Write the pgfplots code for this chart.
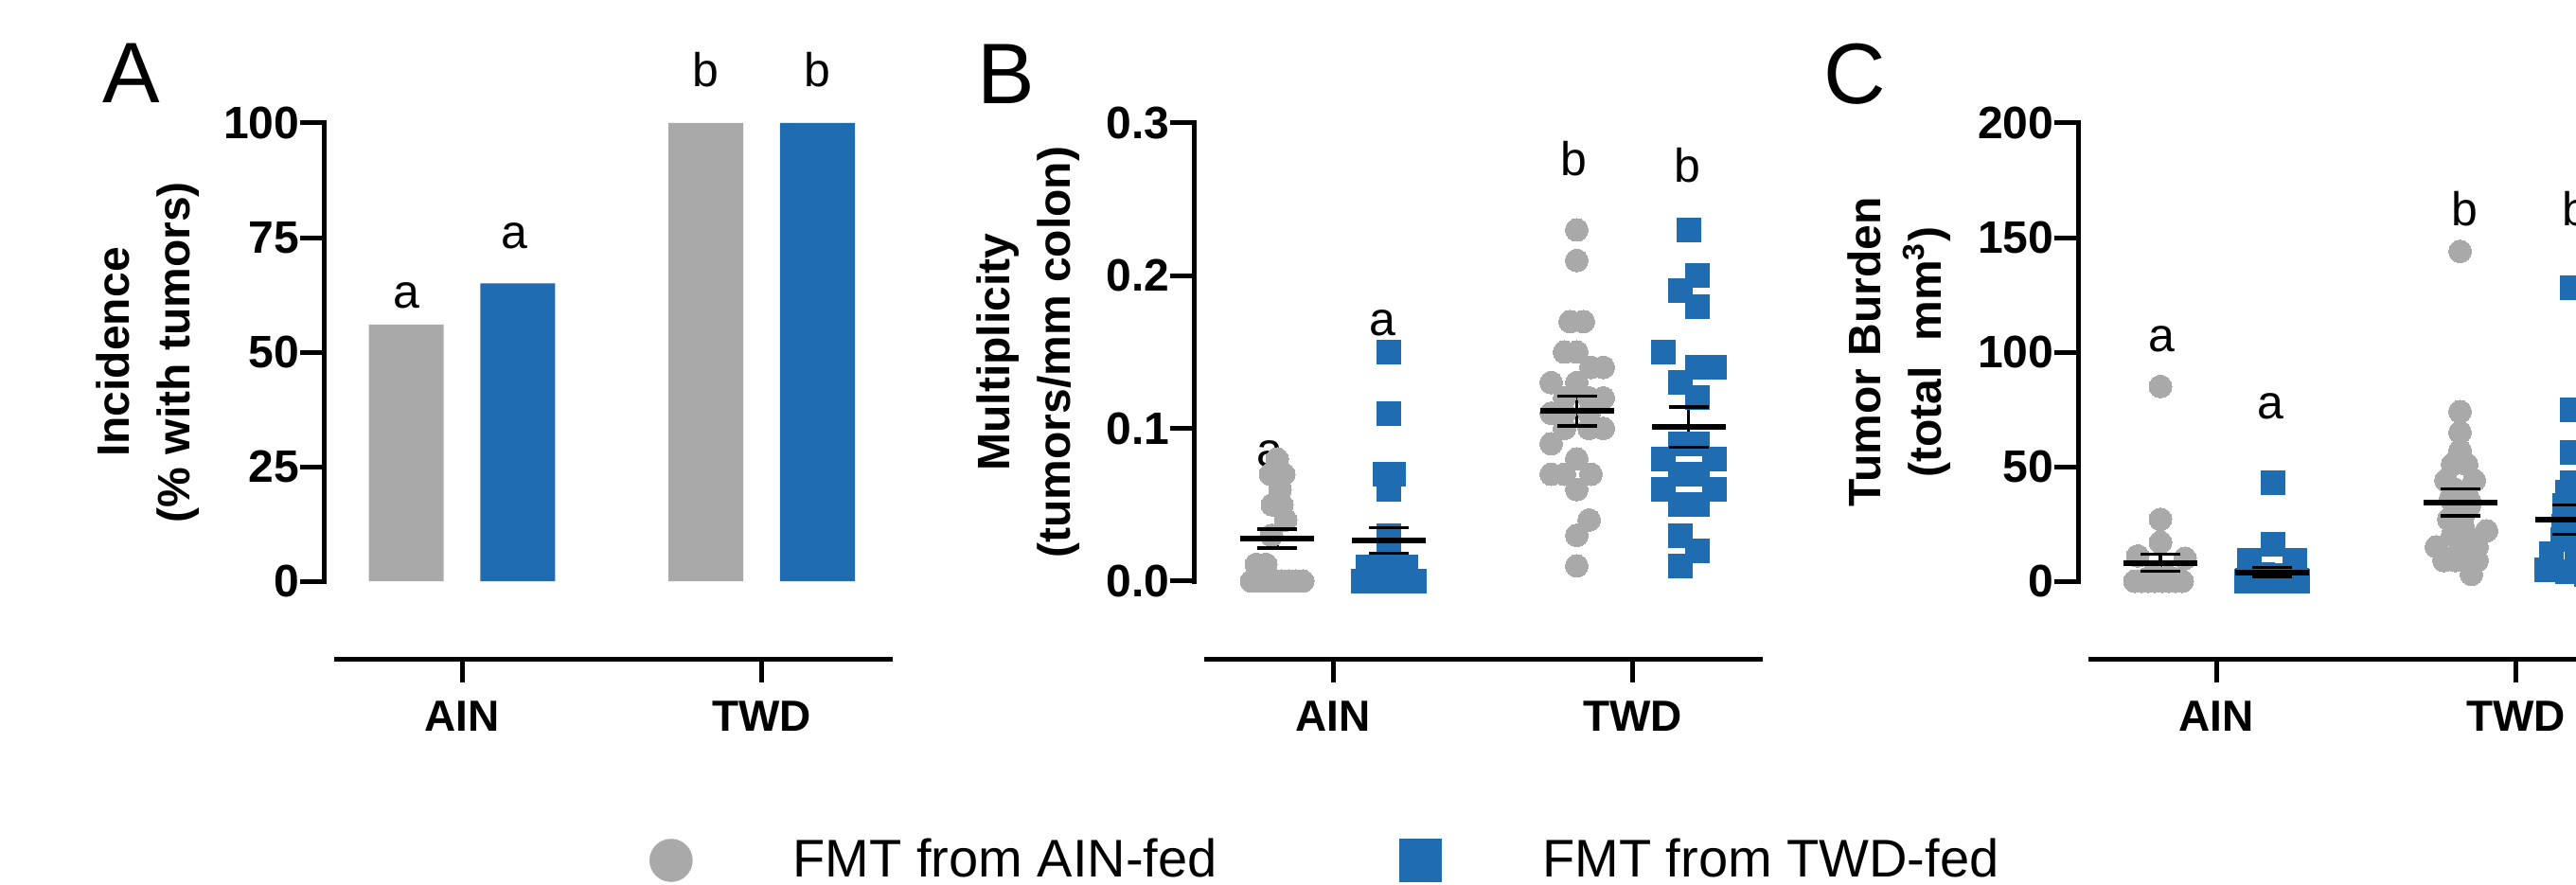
\documentclass[border=0pt]{standalone}
\usepackage{fontspec}
\setmainfont{Liberation Sans}
\usepackage{pgfplots}
\pgfplotsset{compat=1.18}

\definecolor{agray}{RGB}{169,169,169}
\definecolor{ablue}{RGB}{31,108,176}

\tikzset{letter/.style={font=\fontsize{12.5}{12.5}\selectfont, anchor=base, inner sep=0pt}}

\pgfplotsset{
  panel/.style={
    scale only axis, width=150.25pt, height=141.5pt,
    anchor=south west, clip=false,
    axis x line*=bottom, axis y line*=left,
    x axis line style={line width=1.25pt, shorten <=2.75pt},
    y axis line style={line width=1.25pt, shorten <=20.5pt, line cap=rect},
    tick align=outside, major tick length=6.25pt,
    tick style={black, line width=1.25pt},
    xtick={1,2}, xticklabels={AIN,TWD},
    xticklabel style={font=\fontsize{11.5}{12}\selectfont\bfseries, anchor=base, inner sep=0pt, yshift=-12.75pt},
    yticklabel style={font=\fontsize{12}{12}\selectfont\bfseries, anchor=east, inner sep=0pt},
    ylabel style={font=\fontsize{12}{15.9}\selectfont\bfseries, align=center, anchor=center},
  },
  meanbar/.style={only marks, mark=-, mark size=9.75pt, mark options={line width=1.5pt, black}, forget plot,
    error bars/.cd, y dir=both, y explicit, error mark=none, error bar style={line width=0.83pt, black}},
  meancap/.style={only marks, mark=-, mark size=5.25pt, mark options={line width=0.83pt, black}, forget plot},
  graydots/.style={only marks, mark=*, mark size=3pt, color=agray, mark options={draw=agray, fill=agray, line width=0pt}},
  bluedots/.style={only marks, mark=square*, mark size=3.125pt, color=ablue, mark options={draw=ablue, fill=ablue, line width=0pt}},
}

\begin{document}
\begin{tikzpicture}
\path[use as bounding box] (0pt,0pt) rectangle (680.25pt,233.5pt);
\clip (0pt,0pt) rectangle (680.25pt,233.5pt);

% A: incidence
\begin{axis}[panel, at={(85.5pt,59.5pt)},
  xmin=0.5387, xmax=2.4376, ymin=-16.94, ymax=100,
  ytick={0,25,50,75,100}, yticklabels={0,25,50,75,100},
  ylabel={Incidence\\(\% with tumors)},
  ylabel style={at={(axis description cs:-0.3095,0.5724)}}]
\addplot[ybar, bar width=19.75pt, bar shift=0pt, fill=agray, draw=none] coordinates {(0.8136,56) (1.8136,100)};
\addplot[ybar, bar width=19.75pt, bar shift=0pt, fill=ablue, draw=none] coordinates {(1.1864,65) (2.1864,100)};
\node[letter] at (axis cs:0.8136,59.7) {a};
\node[letter] at (axis cs:1.174,72.7) {a};
\node[letter] at (axis cs:1.8136,107.9) {b};
\node[letter] at (axis cs:2.1864,107.9) {b};
\end{axis}

% B: multiplicity
\begin{axis}[panel, at={(315.25pt,59.5pt)},
  xmin=0.5355, xmax=2.4344, ymin=-0.05083, ymax=0.3,
  ytick={0,0.1,0.2,0.3}, yticklabels={0.0,0.1,0.2,0.3},
  ylabel={Multiplicity\\(tumors/mm colon)},
  ylabel style={at={(axis description cs:-0.2912,0.5724)}},
  legend style={at={(axis description cs:-0.9567,-0.3763)}, anchor=west, draw=none, fill=none,
    inner sep=0pt, outer sep=0pt, font=\fontsize{14}{14}\selectfont, legend columns=2,
    nodes={inner sep=0pt},
    /tikz/every odd column/.append style={column sep=26.5pt},
    /tikz/every even column/.append style={column sep=48pt}},
  legend cell align=left]
\addplot[graydots, legend image code/.code={\fill[agray] (0pt,0pt) circle[radius=5.5pt];}] coordinates {
  (0.8136,0.08) (0.7915,0.07) (0.8357,0.07) (0.8231,0.06) (0.7978,0.05) (0.8294,0.05)
  (0.8420,0.04) (0.7946,0.03) (0.7441,0.011) (0.7757,0.011)
  (0.7283,0) (0.7536,0) (0.7757,0) (0.8010,0) (0.8262,0) (0.8515,0) (0.8736,0) (0.8989,0)
  (1.8136,0.23) (1.8136,0.21) (1.7915,0.17) (1.8357,0.17) (1.7725,0.15) (1.8136,0.15)
  (1.8610,0.14) (1.9021,0.14) (1.7283,0.13) (1.8136,0.13)
  (1.7725,0.12) (1.8547,0.12) (1.9021,0.12) (1.7283,0.11) (1.7725,0.11) (1.8547,0.11)
  (1.7725,0.10) (1.8547,0.10) (1.9021,0.10) (1.7283,0.09) (1.8136,0.08)
  (1.7283,0.07) (1.7725,0.07) (1.8610,0.07) (1.8136,0.06) (1.8547,0.04) (1.8136,0.03) (1.8136,0.01)};
\addlegendentry{FMT from AIN-fed}
\addplot[bluedots, legend image code/.code={\fill[ablue] (-5.5pt,-5.5pt) rectangle (5.5pt,5.5pt);}] coordinates {
  (1.1864,0.15) (1.1864,0.11) (1.1722,0.07) (1.2006,0.07) (1.1864,0.06) (1.1864,0.03) (1.1864,0.02)
  (1.1169,0.009) (1.1453,0.009) (1.1738,0.009) (1.2022,0.009) (1.2306,0.009) (1.2433,0.009)
  (1.1011,0) (1.1295,0) (1.1580,0) (1.1864,0) (1.2148,0) (1.2433,0) (1.2717,0)
  (2.1864,0.23) (2.2148,0.20) (2.1580,0.19) (2.2148,0.18) (2.1011,0.15) (2.2148,0.14) (2.2717,0.14)
  (2.1580,0.13) (2.2148,0.12) (2.1580,0.09) (2.2148,0.09) (2.1011,0.08) (2.2717,0.08)
  (2.1580,0.07) (2.2148,0.07) (2.1011,0.06) (2.2717,0.06) (2.1580,0.05) (2.2148,0.05)
  (2.1580,0.03) (2.2148,0.02) (2.1580,0.01)};
\addlegendentry{FMT from TWD-fed}
\addplot[meanbar] coordinates {(0.8136,0.0279) +- (0,0.0062) (1.1864,0.0267) +- (0,0.0085)
  (1.8136,0.1114) +- (0,0.0098) (2.1864,0.1010) +- (0,0.0131)};
\addplot[meancap] coordinates {(0.8136,0.0341) (0.8136,0.0217) (1.1864,0.0352) (1.1864,0.0182)
  (1.8136,0.1212) (1.8136,0.1016) (2.1864,0.1141) (2.1864,0.0879)};
\node[letter] at (axis cs:0.788,0.075) {a};
\node[letter] at (axis cs:1.164,0.1606) {a};
\node[letter] at (axis cs:1.8025,0.2653) {b};
\node[letter] at (axis cs:2.1817,0.261) {b};
\end{axis}

% C: tumor burden
\begin{axis}[panel, at={(548.75pt,59.5pt)},
  xmin=0.5387, xmax=2.4376, ymin=-33.88, ymax=200,
  ytick={0,50,100,150,200}, yticklabels={0,50,100,150,200},
  ylabel={Tumor Burden\\(total\ \ mm\textsuperscript{3})},
  ylabel style={at={(axis description cs:-0.3145,0.5724)}}]
\addplot[graydots] coordinates {
  (0.8136,85) (0.8136,27) (0.8136,17) (0.7378,11) (0.8957,10) (0.7883,3) (0.8389,2)
  (0.7662,1) (0.8610,1) (0.8136,0.5)
  (0.7283,0) (0.7504,0) (0.7725,0) (0.7946,0) (0.8199,0) (0.8420,0) (0.8642,0) (0.8863,0)
  (1.8136,144) (1.8136,74) (1.8136,65) (1.8136,57) (1.7883,51) (1.8357,51) (1.7662,44) (1.8610,44)
  (1.7978,40) (1.8294,38) (1.7820,36) (1.8452,35) (1.8452,33) (1.8041,30) (1.8231,28) (1.7757,27)
  (1.8231,24) (1.9021,22) (1.7883,20) (1.8452,19) (1.7346,15) (1.8705,15) (1.8136,12) (1.7883,10)
  (1.7599,9) (1.7978,9) (1.8705,9) (1.8515,3)};
\addplot[bluedots] coordinates {
  (1.1906,43) (1.1906,16) (1.1106,9) (1.2622,9) (1.1548,3) (1.2180,2.5) (1.1864,2)
  (1.1295,1) (1.2433,1) (1.1674,0.5) (1.2054,0.5) (1.1043,0.3) (1.2685,0.3)
  (1.1011,0) (1.1295,0) (1.1580,0) (1.1864,0) (1.2148,0) (1.2433,0) (1.2717,0)
  (2.1864,128) (2.1864,75) (2.1864,56) (2.1864,43) (2.1706,39) (2.1611,33) (2.1738,28) (2.1580,24)
  (2.1548,18) (2.1169,12) (2.1011,5) (2.1706,4)
  (2.2338,25) (2.2496,22) (2.2180,18) (2.2496,15) (2.2022,12) (2.2338,15) (2.2180,10) (2.2654,8)
  (2.2022,6) (2.2338,3)};
\addplot[meanbar] coordinates {(0.8136,7.85) += (0,3.85) -= (0,3.45) (1.1864,3.7) += (0,2.4) -= (0,1.8)
  (1.8136,34.4) += (0,5.8) -= (0,5.9) (2.1864,26.9) += (0,6.4) -= (0,6.4)};
\addplot[meancap] coordinates {(0.8136,11.7) (0.8136,4.4) (1.1864,6.1) (1.1864,1.9)
  (1.8136,40.2) (1.8136,28.5) (2.1864,33.3) (2.1864,20.5)};
\node[letter] at (axis cs:0.8167,100.4) {a};
\node[letter] at (axis cs:1.18,70.7) {a};
\node[letter] at (axis cs:1.828,155) {b};
\node[letter] at (axis cs:2.198,155) {b};
\end{axis}

\node[anchor=base west, inner sep=0pt, font=\fontsize{22.7}{22.7}\selectfont] at (27pt,206.25pt) {A};
\node[anchor=base west, inner sep=0pt, font=\fontsize{22.7}{22.7}\selectfont] at (258pt,206pt) {B};
\node[anchor=base west, inner sep=0pt, font=\fontsize{22.7}{22.7}\selectfont] at (481.5pt,206pt) {C};
\end{tikzpicture}
\end{document}
